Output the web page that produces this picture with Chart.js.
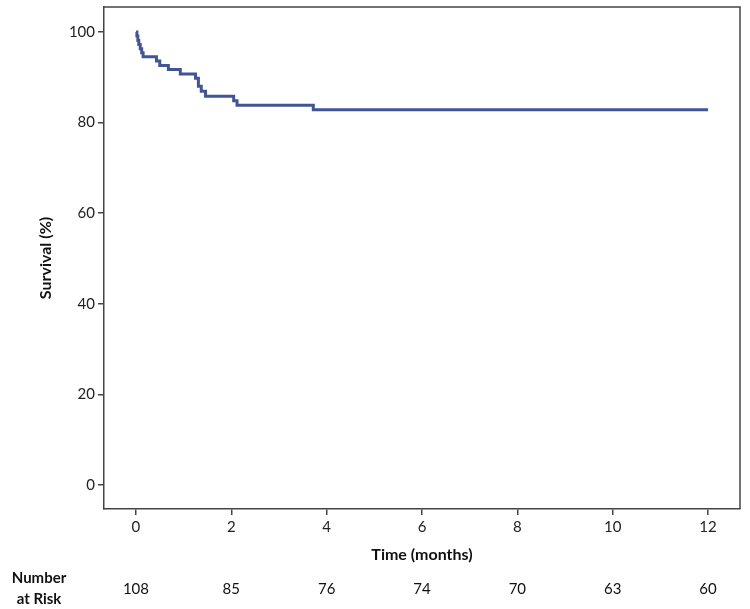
<!DOCTYPE html>
<html>
<head>
<meta charset="utf-8">
<script src="https://cdn.jsdelivr.net/npm/chart.js@4"></script>
<style>
    html, body {
        margin: 0;
        padding: 0;
        background: #ffffff;
    }
    #wrap {
        width: 750px;
        height: 609px;
    }
</style>
</head>
<body>
<div id="wrap">
    <canvas id="chart" width="750" height="609"></canvas>
</div>
<script>

const chartCanvas =
    document.getElementById("chart");


// Kaplan-Meier steps
const timeMonths = [
    0, 0.02, 0.04, 0.06, 0.09, 0.12, 0.15,
    0.43, 0.5, 0.68, 0.93, 1.25, 1.31, 1.37,
    1.46, 2.05, 2.12, 3.72, 12
];

const survivalPct = [
    100, 99.1, 98.1, 97.2, 96.3, 95.4, 94.5,
    93.6, 92.6, 91.7, 90.7, 89.8, 88.0, 86.9,
    85.8, 84.8, 83.8, 82.8, 82.8
];

const xTicks = [0, 2, 4, 6, 8, 10, 12];
const yTicks = [0, 20, 40, 60, 80, 100];

const riskTimes = [0, 2, 4, 6, 8, 10, 12];
const numberAtRisk = [108, 85, 76, 74, 70, 63, 60];


const fontFamily = "Lato, 'Open Sans', sans-serif";
const lineColor = "#3f5597";
const axisColor = "#444444";


let points = [];

for (let i = 0; i < timeMonths.length; i++) {
    points.push({
        x: timeMonths[i],
        y: survivalPct[i]
    });
}



const framePlugin = {

    id: "frame",

    afterDraw(chart) {

        const ctx = chart.ctx;
        const area = chart.chartArea;
        const xs = chart.scales.x;

        ctx.save();

        // top and right edges of the box
        ctx.strokeStyle = axisColor;
        ctx.lineWidth = 1.5;
        ctx.beginPath();
        ctx.moveTo(area.left, area.top);
        ctx.lineTo(area.right, area.top);
        ctx.lineTo(area.right, area.bottom);
        ctx.stroke();

        // number at risk table
        ctx.fillStyle = "#111111";
        ctx.textAlign = "center";
        ctx.textBaseline = "middle";

        ctx.font = "bold 15px " + fontFamily;
        ctx.fillText("Number", 39, 578);
        ctx.fillText("at Risk", 39, 599);

        ctx.font = "15px " + fontFamily;

        for (let i = 0; i < riskTimes.length; i++) {
            ctx.fillText(
                String(numberAtRisk[i]),
                xs.getPixelForValue(riskTimes[i]),
                589
            );
        }

        ctx.restore();
    }
};



let chart = new Chart(chartCanvas, {

    type: "line",

    data: {
        datasets: [{
            data: points,
            borderColor: lineColor,
            borderWidth: 3,
            stepped: "before",
            pointRadius: 0,
            fill: false
        }]
    },

    options: {

        responsive: false,
        animation: false,

        layout: {
            padding: {
                top: 7,
                right: 10,
                left: 0,
                bottom: 0
            }
        },

        plugins: {
            legend: {
                display: false
            },
            tooltip: {
                enabled: false
            }
        },

        scales: {

            x: {
                type: "linear",
                min: -0.67,
                max: 12.67,
                afterBuildTicks: (scale) => {
                    scale.ticks = xTicks.map(v => ({ value: v }));
                },
                afterFit: (scale) => {
                    scale.height = 100;
                },
                ticks: {
                    color: "#222222",
                    padding: 3,
                    maxRotation: 0,
                    font: {
                        family: fontFamily,
                        size: 15
                    }
                },
                grid: {
                    display: true,
                    drawOnChartArea: false,
                    drawTicks: true,
                    tickLength: 6,
                    color: axisColor,
                    lineWidth: 1.5
                },
                border: {
                    display: true,
                    color: axisColor,
                    width: 1.5
                },
                title: {
                    display: true,
                    text: "Time (months)",
                    color: "#111111",
                    padding: {
                        top: 0,
                        bottom: 45
                    },
                    font: {
                        family: fontFamily,
                        size: 16,
                        weight: "bold"
                    }
                }
            },

            y: {
                min: -5.3,
                max: 105.5,
                afterBuildTicks: (scale) => {
                    scale.ticks = yTicks.map(v => ({ value: v }));
                },
                afterFit: (scale) => {
                    scale.width = 104;
                    scale.paddingTop = 0;
                    scale.paddingBottom = 0;
                },
                ticks: {
                    color: "#222222",
                    padding: 3,
                    font: {
                        family: fontFamily,
                        size: 15
                    }
                },
                grid: {
                    display: true,
                    drawOnChartArea: false,
                    drawTicks: true,
                    tickLength: 6,
                    color: axisColor,
                    lineWidth: 1.5
                },
                border: {
                    display: true,
                    color: axisColor,
                    width: 1.5
                },
                title: {
                    display: true,
                    text: "Survival (%)",
                    color: "#111111",
                    padding: {
                        top: 36,
                        bottom: 0
                    },
                    font: {
                        family: fontFamily,
                        size: 16,
                        weight: "bold"
                    }
                }
            }

        }
    },

    plugins: [framePlugin]

});

</script>
</body>
</html>
